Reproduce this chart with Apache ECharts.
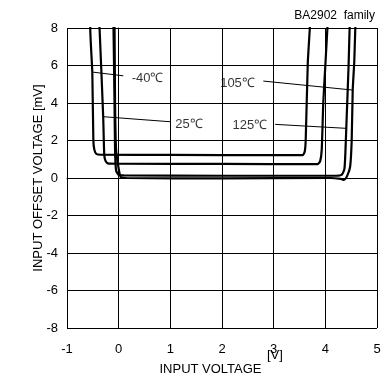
<!DOCTYPE html>
<html lang="en">
<head>
    <meta charset="UTF-8">
    <title>BA2902 offset voltage</title>
    <script src="https://cdn.jsdelivr.net/npm/echarts@6/dist/echarts.min.js"></script>
</head>
<body style="margin:0">
<div id="box" style="width: 385px;height: 390px;"></div>
<script>
    // curves: [input voltage V, offset mV]
    var tMinus40 = [[-0.55,8.5],[-0.55,8],[-0.51,5.6],[-0.49,2],[-0.47,1.5],[-0.43,1.28],[-0.35,1.24],[1,1.23],[3,1.22],[3.56,1.22],[3.6,1.4],[3.62,2],[3.66,6.1],[3.7,8],[3.71,8.5]];
    var t25 = [[-0.38,8.5],[-0.37,8],[-0.3,3.3],[-0.28,1.3],[-0.26,0.95],[-0.21,0.78],[0,0.76],[2,0.75],[3.85,0.74],[3.9,0.9],[3.93,1.5],[3.96,4],[4,6],[4.04,8],[4.05,8.5]];
    var t125 = [[-0.11,8.5],[-0.1,8],[-0.08,4],[-0.07,1.5],[-0.05,0.4],[0,0.17],[0.1,0.14],[2,0.12],[4.2,0.12],[4.32,0.18],[4.37,0.5],[4.39,1.5],[4.41,3],[4.45,6],[4.47,8],[4.48,8.5]];
    var t105 = [[-0.09,8.5],[-0.08,8],[-0.07,4],[-0.05,1.5],[0,0.5],[0.04,0.05],[0.15,0],[2,-0.02],[4.1,0],[4.3,-0.05],[4.36,-0.1],[4.42,0.1],[4.48,0.6],[4.51,2],[4.53,4.7],[4.56,6.2],[4.58,8],[4.59,8.5]];

    // label text position and leader line ends
    var labelNames = ['-40℃', '25℃', '105℃', '125℃'];
    var labelPos = [[0.56,5.3],[1.36,2.88],[2.3,5.05],[2.54,2.83]];
    var leaders = [
        [[-0.51,5.65],[0.09,5.45]],
        [[-0.3,3.27],[1.0,3.0]],
        [[2.8,5.17],[4.53,4.69]],
        [[3.03,2.86],[4.4,2.65]]
    ];

    var myChart = echarts.init(document.getElementById('box'));

    var series = [];
    [tMinus40, t25, t125, t105].forEach(function (d) {
        series.push({
            type: 'line', data: d, showSymbol: false, smooth: 0.2,
            lineStyle: {color: '#000', width: 2.2}, silent: true
        });
    });
    leaders.forEach(function (d) {
        series.push({
            type: 'line', data: d, showSymbol: false,
            lineStyle: {color: '#000', width: 1}, silent: true
        });
    });
    series.push({
        type: 'scatter', symbolSize: 0, silent: true,
        data: labelPos.map(function (p, i) { return [p[0], p[1], labelNames[i]]; }),
        label: {
            show: true, position: 'inside', color: '#000', fontSize: 13,
            fontFamily: 'Liberation Sans, Arial',
            formatter: function (p) { return p.value[2]; }
        }
    });

    var option = {
        animation: false,
        title: {
            text: 'BA2902  family', right: 5, top: 5,
            textStyle: {fontSize: 12, fontWeight: 'normal', color: '#000', fontFamily: 'Liberation Sans, Arial'}
        },
        grid: {left: 67, right: 8, top: 28, bottom: 62},
        xAxis: {
            type: 'value', min: -1, max: 5, interval: 1,
            name: 'INPUT VOLTAGE', nameLocation: 'middle', nameGap: 35,
            nameTextStyle: {fontSize: 13, color: '#000', fontFamily: 'Liberation Sans, Arial', padding: [0, 23, 0, 0]},
            axisLine: {lineStyle: {color: '#000', width: 1}},
            axisTick: {show: false},
            axisLabel: {color: '#000', fontSize: 13, margin: 15, fontFamily: 'Liberation Sans, Arial'},
            splitLine: {show: true, lineStyle: {color: '#000', width: 1}}
        },
        yAxis: {
            type: 'value', min: -8, max: 8, interval: 2,
            name: 'INPUT OFFSET VOLTAGE [mV]', nameLocation: 'middle', nameGap: 22,
            nameMoveOverlap: false,
            nameTextStyle: {fontSize: 13, color: '#000', fontFamily: 'Liberation Sans, Arial'},
            axisLine: {show: true, lineStyle: {color: '#000', width: 1}},
            axisTick: {show: false},
            axisLabel: {color: '#000', fontSize: 13, margin: 9, fontFamily: 'Liberation Sans, Arial'},
            splitLine: {show: true, lineStyle: {color: '#000', width: 1}}
        },
        graphic: [{
            type: 'text', left: 267, top: 349,
            style: {text: '[V]', fontSize: 13, fill: '#000', font: '13px Liberation Sans, Arial'}
        }],
        series: series
    };
    myChart.setOption(option);
</script>
</body>
</html>
